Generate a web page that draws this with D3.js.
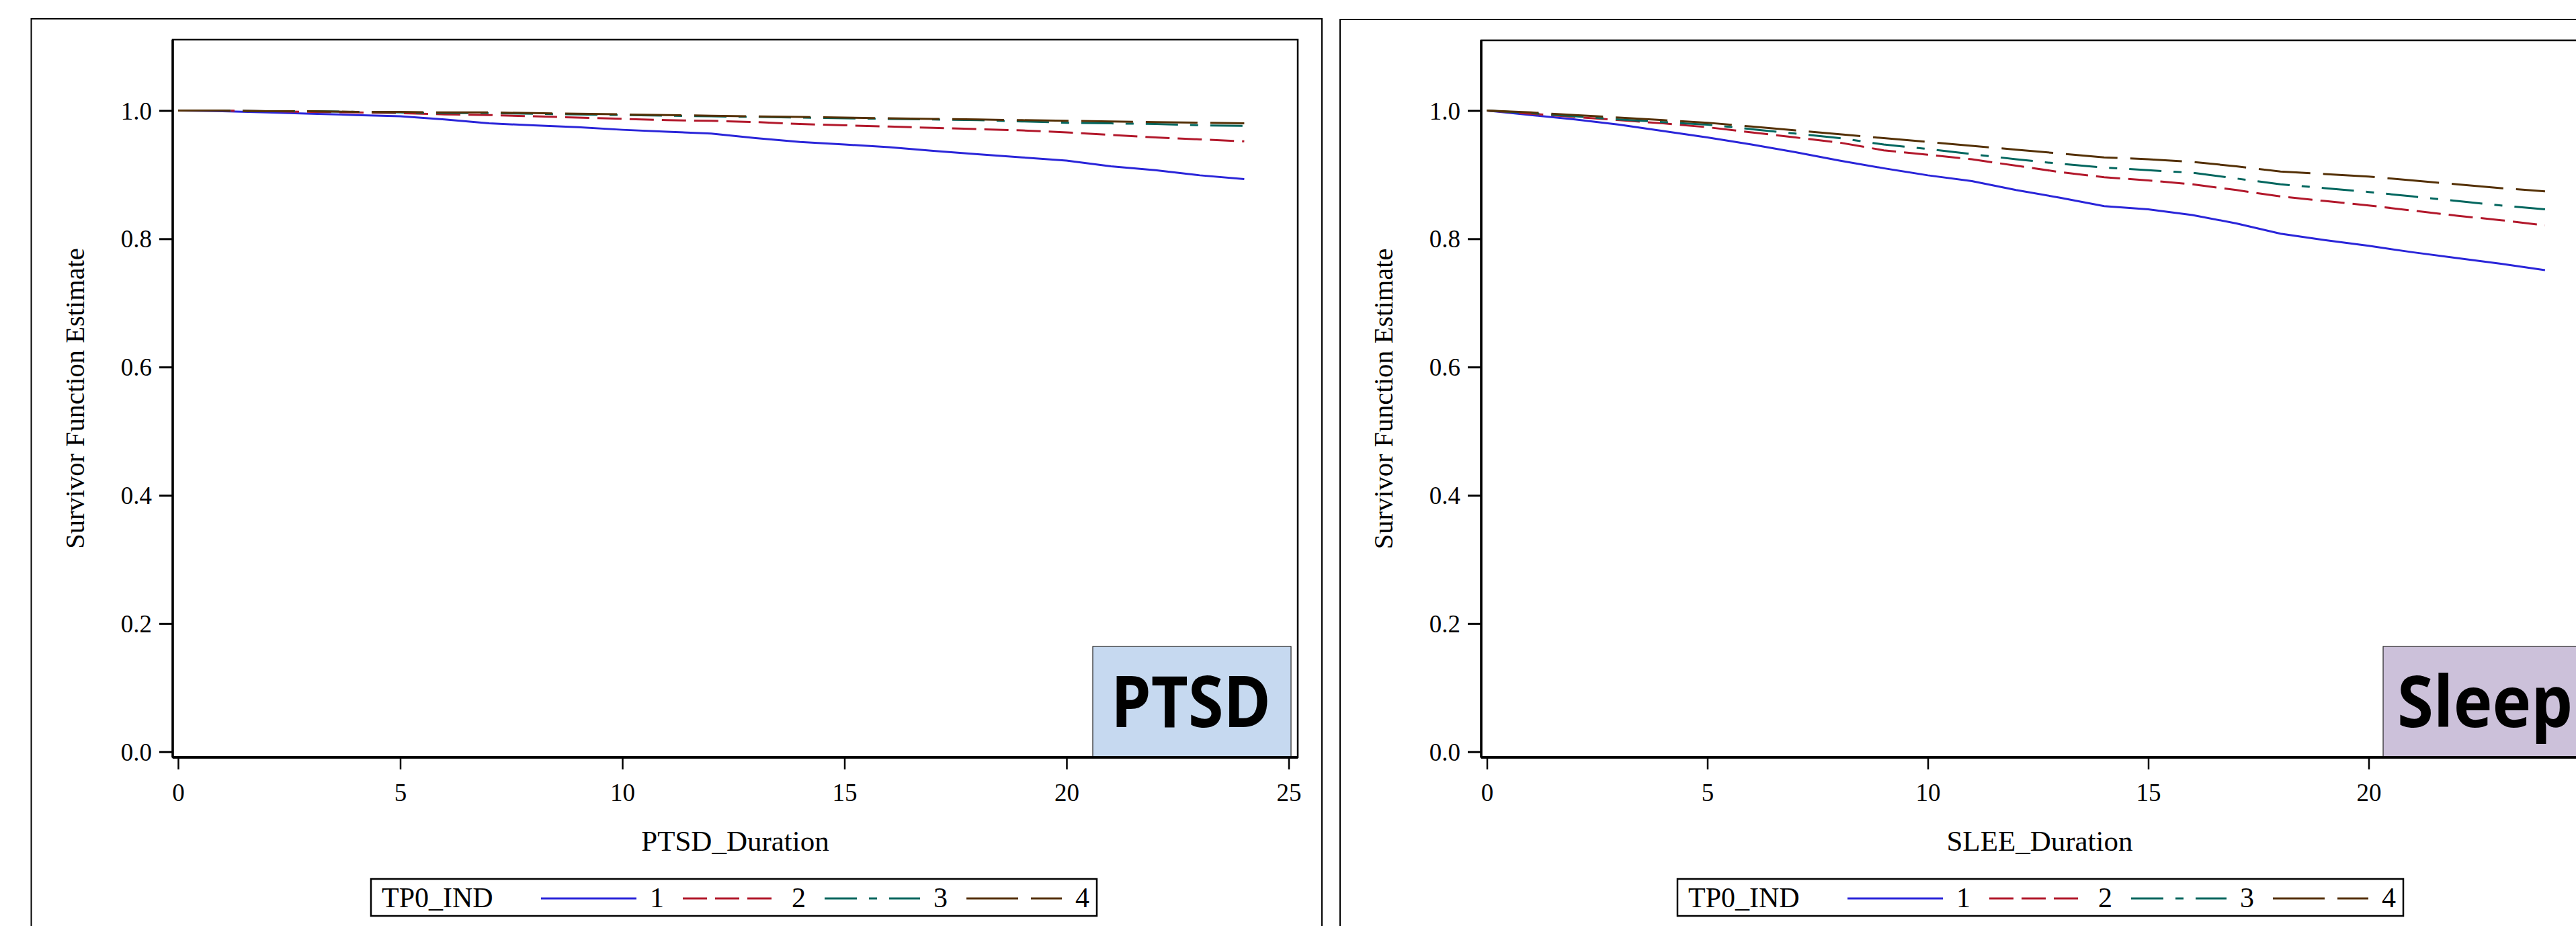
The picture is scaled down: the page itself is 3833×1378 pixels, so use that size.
<!DOCTYPE html>
<html><head><meta charset="utf-8">
<script src="https://cdn.jsdelivr.net/npm/d3@7"></script>
<style>html,body{margin:0;padding:0;background:#fff;overflow:hidden}</style>
</head><body>
<svg id="chart" width="3833" height="1378"></svg>
<script>
// ---------- DATA ----------
const durations = [0,1,2,3,4,5,6,7,8,9,10,11,12,13,14,15,16,17,18,19,20,21,22,23,24];
const groupLabels = ["1","2","3","4"];
const legendTitle = "TP0_IND";
const yAxisTitle = "Survivor Function Estimate";
const xTickValues = [0,5,10,15,20,25];
const yTickValues = [0.0,0.2,0.4,0.6,0.8,1.0];

const ptsd1 = [1.000,0.999,0.997,0.995,0.993,0.991,0.986,0.980,0.977,0.974,0.970,0.967,0.964,0.957,0.951,0.947,0.943,0.937,0.932,0.927,0.922,0.913,0.907,0.899,0.893];
const ptsd2 = [1.000,1.000,0.999,0.998,0.997,0.996,0.994,0.993,0.991,0.989,0.987,0.985,0.984,0.982,0.979,0.977,0.975,0.973,0.971,0.969,0.966,0.962,0.958,0.955,0.952];
const ptsd3 = [1.000,1.000,0.999,0.999,0.998,0.997,0.996,0.996,0.995,0.994,0.993,0.992,0.991,0.990,0.989,0.988,0.987,0.986,0.985,0.983,0.981,0.980,0.979,0.977,0.976];
const ptsd4 = [1.000,1.000,0.999,0.999,0.998,0.998,0.997,0.997,0.996,0.995,0.994,0.993,0.992,0.991,0.990,0.989,0.988,0.987,0.986,0.985,0.984,0.983,0.982,0.981,0.980];

const sleep1 = [1.000,0.993,0.986,0.978,0.968,0.958,0.947,0.935,0.922,0.910,0.899,0.890,0.876,0.864,0.851,0.846,0.837,0.824,0.808,0.798,0.789,0.779,0.770,0.761,0.751];
const sleep2 = [1.000,0.995,0.990,0.985,0.980,0.974,0.966,0.958,0.950,0.938,0.931,0.924,0.914,0.904,0.896,0.891,0.885,0.876,0.866,0.859,0.852,0.844,0.836,0.829,0.821];
const sleep3 = [1.000,0.996,0.991,0.986,0.982,0.978,0.971,0.964,0.957,0.947,0.940,0.932,0.924,0.917,0.911,0.907,0.903,0.894,0.885,0.879,0.873,0.866,0.859,0.852,0.846];
const sleep4 = [1.000,0.997,0.993,0.989,0.985,0.981,0.975,0.969,0.963,0.957,0.951,0.945,0.939,0.933,0.927,0.924,0.920,0.913,0.905,0.901,0.897,0.891,0.885,0.879,0.874];

const panelNames = ["PTSD","Sleep"];
const panelXTitles = ["PTSD_Duration","SLEE_Duration"];
const panelSeries = [[ptsd1,ptsd2,ptsd3,ptsd4],[sleep1,sleep2,sleep3,sleep4]];

// ---------- STYLE / LAYOUT ----------
const colors = ["#2A25D9","#B2182B","#01665E","#543005"];
const dashes = [null,"36,12","48,18,12,18","77,19"];
const serif = "'Liberation Serif','Times New Roman',serif";
const layouts = [
  {outer:{x:46.5,y:28,r:1967}, plot:{l:257,t:59,r:1931,b:1127}, x0:265, x25:1917.5,
   yTitleX:125, legendL:552, box:{x:1626,y:962,w:295,h:164,fill:"#C6D9F0"}, boxText:{x:1772,anchor:"middle",len:238}},
  {outer:{x:1994,y:29,r:3950}, plot:{l:2204,t:60,r:3866,b:1127}, x0:2212.5, x25:3852.5,
   yTitleX:2072, legendL:2496, box:{x:3546,y:962,w:340,h:164,fill:"#CCC1DA"}, boxText:{x:3567,anchor:"start",len:261}}
];
const yTop = 164.5, yBottom = 1118.7;

const svg = d3.select("#chart");
svg.append("rect").attr("width",3833).attr("height",1378).attr("fill","#fff");

panelNames.forEach((name, pi) => {
  const L = layouts[pi];
  const g = svg.append("g");
  const x = d3.scaleLinear().domain([0,25]).range([L.x0, L.x25]);
  const y = d3.scaleLinear().domain([0,1]).range([yBottom, yTop]);

  // outer panel border
  g.append("rect").attr("x",L.outer.x).attr("y",L.outer.y)
    .attr("width",L.outer.r-L.outer.x).attr("height",1500)
    .attr("fill","none").attr("stroke","#000").attr("stroke-width",2);

  // annotation box
  g.append("rect").attr("x",L.box.x).attr("y",L.box.y).attr("width",L.box.w).attr("height",L.box.h)
    .attr("fill",L.box.fill).attr("stroke","#222").attr("stroke-width",1.2);
  g.append("text").attr("x",L.boxText.x).attr("y",1082)
    .attr("text-anchor",L.boxText.anchor)
    .attr("font-family","'Open Sans','Noto Sans',sans-serif").attr("font-weight",700)
    .attr("font-size",105).attr("fill","#000")
    .attr("textLength",L.boxText.len).attr("lengthAdjust","spacingAndGlyphs")
    .text(name);

  // series lines
  const line = d3.line().x((d,i)=>x(durations[i])).y(d=>y(d));
  panelSeries[pi].forEach((vals, si) => {
    g.append("path").datum(vals).attr("d",line)
      .attr("fill","none").attr("stroke",colors[si]).attr("stroke-width",3)
      .attr("stroke-dasharray",dashes[si]);
  });

  // plot frame
  const P = L.plot;
  g.append("rect").attr("x",P.l).attr("y",P.t).attr("width",P.r-P.l).attr("height",P.b-P.t)
    .attr("fill","none").attr("stroke","#000").attr("stroke-width",2.5);
  g.append("line").attr("x1",P.l).attr("x2",P.l).attr("y1",P.t).attr("y2",P.b)
    .attr("stroke","#000").attr("stroke-width",3.5);
  g.append("line").attr("x1",P.l).attr("x2",P.r).attr("y1",P.b).attr("y2",P.b)
    .attr("stroke","#000").attr("stroke-width",4);

  // x axis
  const xa = g.append("g").attr("transform",`translate(0,${P.b})`)
    .call(d3.axisBottom(x).tickValues(xTickValues).tickSize(18).tickFormat(d3.format("d")));
  xa.select(".domain").remove();
  xa.selectAll(".tick line").attr("stroke","#000").attr("stroke-width",2.5);
  xa.selectAll(".tick text").attr("y",65).attr("dy",null)
    .attr("font-family",serif).attr("font-size",37).attr("fill","#000");

  // y axis
  const ya = g.append("g").attr("transform",`translate(${P.l},0)`)
    .call(d3.axisLeft(y).tickValues(yTickValues).tickSize(20).tickPadding(11).tickFormat(d3.format(".1f")));
  ya.select(".domain").remove();
  ya.selectAll(".tick line").attr("stroke","#000").attr("stroke-width",3);
  ya.selectAll(".tick text").attr("dy","0.34em")
    .attr("font-family",serif).attr("font-size",37).attr("fill","#000");

  // axis titles
  g.append("text").attr("x",(P.l+Math.min(P.r,3866))/2).attr("y",1266)
    .attr("text-anchor","middle").attr("font-family",serif).attr("font-size",43)
    .text(panelXTitles[pi]);
  g.append("text").attr("transform",`translate(${L.yTitleX},${(P.t+P.b)/2}) rotate(-90)`)
    .attr("text-anchor","middle").attr("font-family",serif).attr("font-size",40.5)
    .text(yAxisTitle);

  // legend
  const lg = g.append("g");
  const LL = L.legendL;
  lg.append("rect").attr("x",LL).attr("y",1308).attr("width",1080).attr("height",55)
    .attr("fill","#fff").attr("stroke","#000").attr("stroke-width",2.5);
  lg.append("text").attr("x",LL+16).attr("y",1350).attr("font-family",serif).attr("font-size",42)
    .text(legendTitle);
  groupLabels.forEach((lab, si) => {
    const sx = LL + 253 + si*211;
    lg.append("line").attr("x1",sx).attr("x2",sx+142).attr("y1",1337).attr("y2",1337)
      .attr("stroke",colors[si]).attr("stroke-width",3).attr("stroke-dasharray",dashes[si]);
    lg.append("text").attr("x",sx+162).attr("y",1350).attr("font-family",serif).attr("font-size",42)
      .text(lab);
  });
});
</script>
</body></html>
